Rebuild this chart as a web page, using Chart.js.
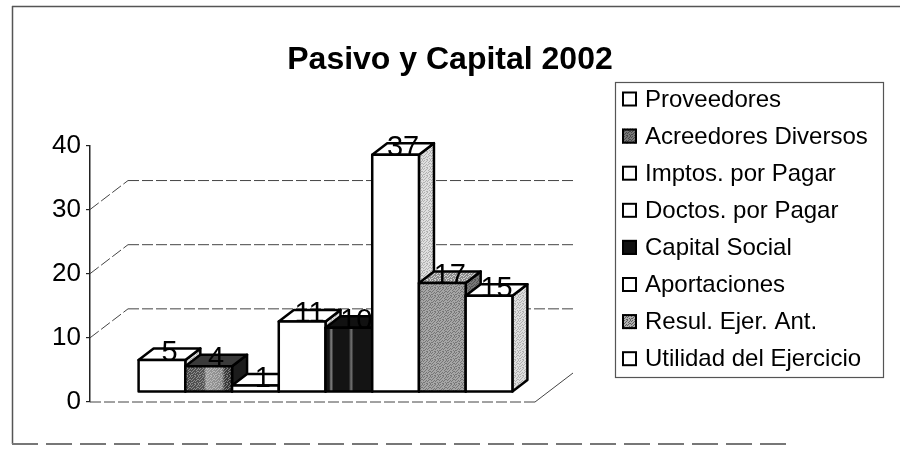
<!DOCTYPE html>
<html><head><meta charset="utf-8">
<script src="https://cdn.jsdelivr.net/npm/chart.js@4.4.1/dist/chart.umd.min.js"></script>
<style>html,body{margin:0;padding:0;background:#fff}canvas{display:block}</style>
</head><body>
<canvas id="c" width="900" height="457"></canvas>
<script>
// ---------------- data ----------------
const categories = ['2002'];
const seriesNames = ['Proveedores','Acreedores Diversos','Imptos. por Pagar','Doctos. por Pagar','Capital Social','Aportaciones','Resul. Ejer. Ant.','Utilidad del Ejercicio'];
const seriesValues = [5, 4, 1, 11, 10, 37, 17, 15];
const yTickValues = [0, 10, 20, 30, 40];
const chartTitle = 'Pasivo y Capital 2002';

// ---------------- styles ----------------
const FONT = "'Liberation Sans', Arial, Helvetica, sans-serif";
const seriesKinds = ['white','darkGray','white','white','black','white','gray','white'];
const WALL = {dx: 38, dy: -29};     // depth of floor / back wall
const SHIFT = {dx: 13, dy: -10};    // bars sit a little behind the front plane
const DEPTH = {dx: 15, dy: -11.5};  // depth of each bar

const DOTS = ['10010010','00100101','01001000','10000110','00101001','01010000','10000101','00110010'];
function stipple(ctx, base, dot) {
  const c = document.createElement('canvas'); c.width = 8; c.height = 8;
  const g = c.getContext('2d');
  if (base) { g.fillStyle = base; g.fillRect(0,0,8,8); }
  g.fillStyle = dot;
  DOTS.forEach((row, yy) => { [...row].forEach((b, xx) => { if (b === '1') g.fillRect(xx, yy, 1, 1); }); });
  return ctx.createPattern(c, 'repeat');
}
function hGrad(ctx, x0, x1, stops) {
  const g = ctx.createLinearGradient(x0, 0, x1, 0);
  stops.forEach(s => g.addColorStop(s[0], s[1]));
  return g;
}
function faceStyles(ctx, kind, xl, xr) {
  switch (kind) {
    case 'darkGray': return {
      front: [hGrad(ctx, xl, xr, [[0,'#4a4a4a'],[0.4,'#555'],[0.45,'#9a9a9a'],[0.78,'#8a8a8a'],[0.85,'#3a3a3a'],[1,'#333']]), stipple(ctx, null, 'rgba(255,255,255,0.35)')],
      top: ['#3a3a3a'], side: ['#1c1c1c'] };
    case 'black': return {
      front: [hGrad(ctx, xl, xr, [[0,'#141414'],[0.08,'#141414'],[0.12,'#8a8a8a'],[0.17,'#141414'],[0.5,'#141414'],[0.55,'#777'],[0.6,'#141414'],[1,'#141414']])],
      top: ['#111'], side: ['#0c0c0c'] };
    case 'gray': return {
      front: ['#a6a6a6', stipple(ctx, null, 'rgba(60,60,60,0.45)')],
      top: ['#8c8c8c', stipple(ctx, null, 'rgba(255,255,255,0.6)')],
      side: ['#777', stipple(ctx, null, 'rgba(30,30,30,0.4)')] };
    default: return {
      front: ['#ffffff'], top: ['#ffffff'],
      side: ['#dedede', stipple(ctx, null, 'rgba(120,120,120,0.45)')] };
  }
}
function fillPoly(ctx, pts, fills) {
  ctx.beginPath();
  pts.forEach((p, i) => i ? ctx.lineTo(p[0], p[1]) : ctx.moveTo(p[0], p[1]));
  ctx.closePath();
  fills.forEach(f => { ctx.fillStyle = f; ctx.fill(); });
  ctx.stroke();
}
function line(ctx, x0, y0, x1, y1) { ctx.beginPath(); ctx.moveTo(x0, y0); ctx.lineTo(x1, y1); ctx.stroke(); }

const threeD = {
  id: 'threeD',
  beforeDatasetDraw() { return false; },
  beforeDatasetsDraw(chart) {
    const ctx = chart.ctx, {left, right} = chart.chartArea, ys = chart.scales.y;
    ctx.save();
    ctx.strokeStyle = '#444'; ctx.lineWidth = 1; ctx.setLineDash([11, 3]);
    const top = yTickValues[yTickValues.length - 1];
    yTickValues.forEach(v => {
      if (v === 0 || v === top) return;
      const py = ys.getPixelForValue(v);
      line(ctx, left, py, left + WALL.dx, py + WALL.dy);
      line(ctx, left + WALL.dx, py + WALL.dy, right + WALL.dx, py + WALL.dy);
    });
    const p0 = ys.getPixelForValue(0);
    line(ctx, left, p0, right, p0);
    ctx.setLineDash([]);
    line(ctx, right, p0, right + WALL.dx, p0 + WALL.dy);
    ctx.restore();
  },
  afterDatasetsDraw(chart) {
    const ctx = chart.ctx;
    ctx.save();
    ctx.lineWidth = 2.5; ctx.strokeStyle = '#000'; ctx.lineJoin = 'round';
    const boxes = [];
    chart.data.datasets.forEach((ds, i) => {
      const el = chart.getDatasetMeta(i).data[0];
      const p = el.getProps(['x', 'y', 'base', 'width'], true);
      const xl = p.x - p.width / 2 + SHIFT.dx, xr = p.x + p.width / 2 + SHIFT.dx;
      const yt = p.y + SHIFT.dy, yb = p.base + SHIFT.dy;
      const st = faceStyles(ctx, seriesKinds[i], xl, xr);
      fillPoly(ctx, [[xr, yt], [xr + DEPTH.dx, yt + DEPTH.dy], [xr + DEPTH.dx, yb + DEPTH.dy], [xr, yb]], st.side);
      fillPoly(ctx, [[xl, yt], [xl + DEPTH.dx, yt + DEPTH.dy], [xr + DEPTH.dx, yt + DEPTH.dy], [xr, yt]], st.top);
      fillPoly(ctx, [[xl, yt], [xr, yt], [xr, yb], [xl, yb]], st.front);
      boxes.push({xl, xr, yt, v: ds.data[0]});
    });
    ctx.fillStyle = '#000'; ctx.font = '29px ' + FONT;
    ctx.textAlign = 'center'; ctx.textBaseline = 'alphabetic';
    boxes.forEach(b => ctx.fillText(String(b.v), (b.xl + b.xr) / 2 + DEPTH.dx / 2, b.yt + 1));
    ctx.restore();
  },
  afterDraw(chart) {
    const ctx = chart.ctx;
    ctx.save();
    // outer frame
    ctx.strokeStyle = '#555'; ctx.lineWidth = 1.5;
    line(ctx, 12, 6.5, 900, 6.5);
    line(ctx, 12.5, 6, 12.5, 444);
    ctx.strokeStyle = '#777'; ctx.lineWidth = 2; ctx.setLineDash([26, 8]);
    line(ctx, 12, 444, 790, 444);
    ctx.setLineDash([]);
    // legend
    const L = {x: 615, y: 82, w: 268, h: 295, first: 99, step: 37.1};
    ctx.strokeStyle = '#555'; ctx.lineWidth = 1.2;
    ctx.strokeRect(L.x + 0.5, L.y + 0.5, L.w, L.h);
    ctx.font = '24px ' + FONT; ctx.textAlign = 'left'; ctx.textBaseline = 'middle';
    chart.data.datasets.forEach((ds, i) => {
      const cy = L.first + i * L.step;
      const kind = seriesKinds[i];
      const bx = 622, by = cy - 7.5;
      let fill = '#fff';
      if (kind === 'darkGray') fill = '#777';
      if (kind === 'black') fill = '#111';
      if (kind === 'gray') fill = '#b0b0b0';
      ctx.fillStyle = fill; ctx.fillRect(bx, by, 15, 15);
      if (kind === 'darkGray' || kind === 'gray') { ctx.fillStyle = stipple(ctx, null, 'rgba(40,40,40,0.6)'); ctx.fillRect(bx, by, 15, 15); }
      ctx.strokeStyle = '#000'; ctx.lineWidth = 2; ctx.strokeRect(bx + 1, by + 1, 13, 13);
      ctx.fillStyle = '#000'; ctx.fillText(ds.label, 645, cy + 1);
    });
    ctx.restore();
  }
};

Chart.defaults.font.family = FONT;
Chart.defaults.color = '#000';

new Chart(document.getElementById('c'), {
  type: 'bar',
  data: {
    labels: categories,
    datasets: seriesNames.map((name, i) => ({
      label: name,
      data: [seriesValues[i]],
      backgroundColor: '#fff',
      borderColor: '#000',
      borderWidth: 2,
      categoryPercentage: 0.84,
      barPercentage: 1.0
    }))
  },
  options: {
    responsive: false,
    animation: false,
    devicePixelRatio: 1,
    layout: {padding: {left: 0, right: 0, top: 0, bottom: 55}},
    plugins: {
      legend: {display: false},
      tooltip: {enabled: false},
      title: {
        display: true, text: chartTitle, color: '#000',
        font: {family: FONT, size: 32, weight: 'bold', lineHeight: 1.2},
        padding: {top: 41, bottom: 66}
      }
    },
    scales: {
      x: {display: false},
      y: {
        min: yTickValues[0], max: yTickValues[yTickValues.length - 1],
        afterBuildTicks: s => { s.ticks = yTickValues.map(v => ({value: v})); },
        afterFit: s => { s.width = 90; },
        ticks: {font: {family: FONT, size: 26}, color: '#000', padding: 5},
        grid: {display: true, drawOnChartArea: false, drawTicks: true, tickLength: 4, color: '#222', lineWidth: 1.2},
        border: {display: true, color: '#222', width: 1.5}
      },
      y2: {
        position: 'right', display: true,
        afterFit: s => { s.width = 365; },
        ticks: {display: false}, grid: {display: false}, border: {display: false}
      }
    }
  },
  plugins: [threeD]
});
</script>
</body></html>
